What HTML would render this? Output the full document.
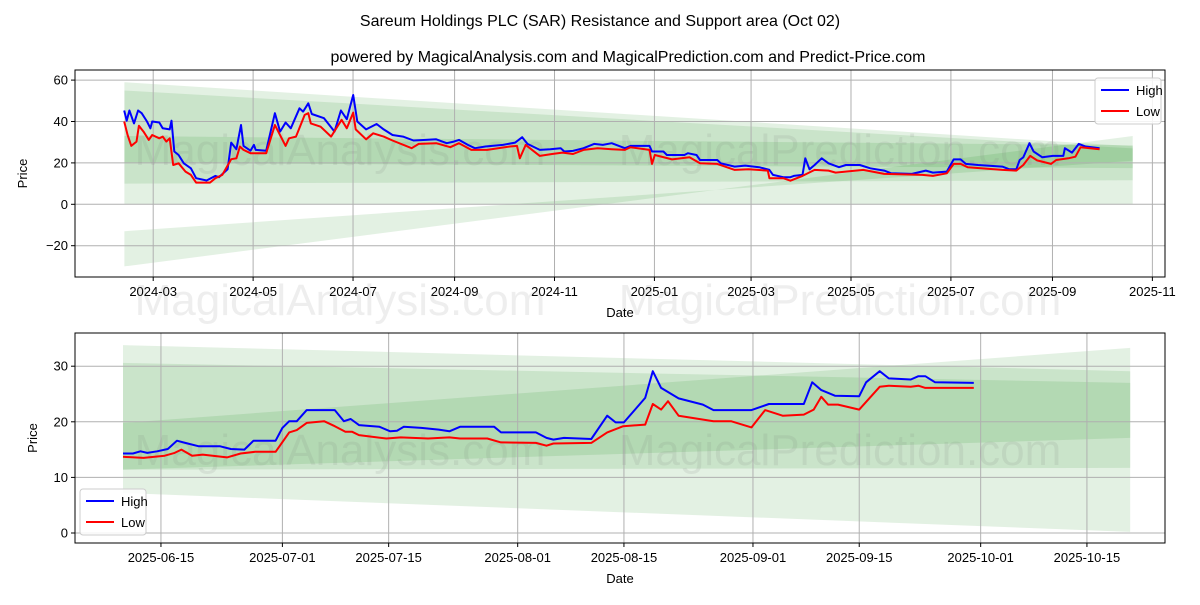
<!DOCTYPE html>
<html><head><meta charset="utf-8"><style>
body{margin:0;background:#fff;font-family:"Liberation Sans",sans-serif}
svg text{font-family:"Liberation Sans",sans-serif}
</style></head><body>
<svg id="c" width="1200" height="600" xmlns="http://www.w3.org/2000/svg">
<rect width="1200" height="600" fill="#fff"/>
<text x="600" y="26" text-anchor="middle" font-size="16">Sareum Holdings PLC (SAR) Resistance and Support area (Oct 02)</text>
<text x="628" y="62" text-anchor="middle" font-size="16">powered by MagicalAnalysis.com and MagicalPrediction.com and Predict-Price.com</text>
<g id="top"></g>
<g id="bot"></g>
</svg>
<script>
// ---- top chart data (days since 2024-03-01) ----
const topHighDays=[-17.7,-16.2,-14.5,-11.7,-9.2,-7,-3.8,-1.7,-0.6,3.7,5.8,10.1,11.2,12.9,15.5,18.7,23,26.2,32.6,38,40.1,45.4,47.6,50.8,53.6,55.1,59.4,61.5,62.6,69,74.3,77.5,80.8,84,89.3,91.5,94.7,96.8,104.3,110.7,114.6,118.2,122.1,124.6,130,136.4,140.7,146.1,152.5,158.9,166.4,172.8,179.2,183.5,186.7,192.1,196.4,202.8,213.5,221,225.3,228.5,236,242.4,248.8,251,256.3,262.7,269.2,274.5,279.9,288,291.4,303,304.5,311.5,313.6,324.3,326.4,331.7,333.8,344.4,346.5,355,361.4,369.9,376.2,378.4,384.7,389,391.1,396.4,398.1,400.7,403.8,408.1,412.3,418.7,422.9,431.4,437.8,446.3,450.5,463.2,471.7,476,484.5,488.7,492.9,496.1,503.6,518.4,522.7,526.9,529,531.2,535,537.5,542.8,549.2,555.6,556.6,560.9,565.1,569.3,577.8];
const topHighVals=[45.3,40.4,45.3,39.1,45.3,44,40,36.7,40,39.5,36.7,36.2,40.4,25.5,23.8,19.8,17.4,12.6,11.5,13.7,13.1,16.9,29.8,26.6,38.3,28.2,25.9,28.7,26.3,25.9,44,35.1,39.5,36.7,46.4,44.8,48.8,43.6,41.6,35.1,45.3,41.1,52.8,40,36.2,38.8,36.2,33.5,32.7,30.8,31.1,31.4,29.5,30.3,31.1,28.7,27.1,27.9,28.7,29.8,32.4,29.2,26.3,26.6,27.1,25.5,25.8,27.1,29.2,28.7,29.5,27.1,28.2,28.2,25.5,25.5,23.8,23.8,24.7,23.8,21.4,21.4,19.8,18.2,18.7,17.9,16.6,14.2,13.1,13.1,13.7,14.2,22.2,16.9,19,22.2,19.8,17.9,19,19,17.4,16.3,15,14.7,16.3,15.3,15.8,21.7,21.7,19.5,19,18.2,16.9,16.9,21.4,22.7,29.5,25.5,22.7,23.4,23.4,27.1,25,29.2,27.9,27.1];
const topLowDays=[-17.7,-15.6,-13.4,-10.2,-8.7,-5.9,-2.7,-0.6,3.7,5.8,8,10.1,12.2,15.5,19.7,23,26.2,34.7,38,42.2,47.6,50.8,52.9,55.1,59.4,69,74.3,80.8,82.9,87.2,92.5,94.7,96.2,102.2,108.6,115,118.2,122.1,123.6,130,134.3,140.7,146.1,157.8,162.1,172.8,181.4,186.7,194.2,203.9,217.8,222.1,223.8,227.4,236,243.5,249.9,256.3,262.7,271.3,279.9,288,291.4,303,304.5,306.2,316.8,327.4,333.8,344.4,355,363.5,375.2,376.2,384.7,389,396.4,403.8,412.3,416.6,433.5,446.3,469.6,476,484.5,488.7,492.9,497.2,518.4,526.9,531.2,535.4,539.6,548.1,551.3,558.7,563,566.2,577.8];
const topLowVals=[40,33.5,28.2,30.3,37.9,35.1,31.1,33.5,31.9,32.7,30.3,31.9,19,19.8,15.8,14.2,10.5,10.5,12.6,14.2,21.8,22.2,27.9,26.3,24.7,24.7,38.3,28.2,31.9,32.7,43.2,44,39.1,37.5,32.7,40.8,36.7,44.3,36.2,31.4,34.3,32.7,30.8,27.1,29.2,29.5,27.6,29.5,26.3,26.3,27.9,28.2,22.2,28.7,23.4,24.3,25,24.3,26.3,27.1,26.6,26.3,27.6,26.3,19.5,23.8,21.7,22.7,19.8,19.5,16.6,16.9,16.3,12.6,12.6,11.4,13.7,16.6,16.3,15.3,16.6,14.7,14.2,13.7,15,19.5,19.5,17.9,16.6,16.3,19,23.4,21.2,19.5,21.4,22.2,23,27.6,26.6];
const topBandStart=-17.6, topBandEnd=598;
const topBandLoStart=[0,10,-30,20], topBandLoEnd=[0,11.6,33,17.5];
const topBandHiStart=[59,55,-13,33], topBandHiEnd=[28,27,21,28.5];
const topYTicks=[-20,0,20,40,60];
const topXTickLabels=["2024-03","2024-05","2024-07","2024-09","2024-11","2025-01","2025-03","2025-05","2025-07","2025-09","2025-11"];
const topXTickDays=[0,61,122,184,245,306,365,426,487,549,610];
// ---- bottom chart data (days since 2025-06-08) ----
const botHighDays=[2,3.3,4.3,5.2,6.5,7.9,9.1,10.2,12,14.8,16.2,18,19.2,22.1,23,23.9,24.9,26.2,29.9,31.1,32,33.1,35.8,37.2,38.1,39,41.3,43.6,45,46.4,50.9,51.8,56.4,57.8,58.7,60.1,63.7,65.8,66.9,68,70.8,71.8,72.9,75.2,78.4,79.8,84.8,87.1,91.7,92.8,94,95.8,99,99.9,101.7,102.9,105.8,106.8,107.7,109,114.1];
const botHighVals=[14.3,14.3,14.7,14.4,14.7,15.1,16.6,16.2,15.6,15.6,15.1,15,16.6,16.6,18.9,20.1,20.1,22.1,22.1,20.1,20.5,19.4,19.1,18.3,18.4,19.1,18.9,18.6,18.3,19.1,19.1,18.1,18.1,17.1,16.8,17.1,16.9,21.1,19.9,19.9,24.3,29.1,26.1,24.2,23.1,22.1,22.1,23.2,23.2,27.1,25.7,24.7,24.6,27.1,29.1,27.8,27.6,28.2,28.2,27.1,27];
const botLowDays=[2,4.7,7.5,8.8,9.7,11.1,12.5,15.7,17.5,19.4,22.1,23.9,24.9,26.2,28.5,29.9,31.3,32.2,33.1,36.7,38.6,42.2,45,46.4,50,51.8,56.4,57.8,58.7,63.7,65.8,67.9,70.8,71.8,72.9,73.8,75.2,79.8,82.1,84.8,86.6,88.9,91.7,93,94,94.9,96.2,99,101.7,102.9,105.8,106.8,107.7,114.1];
const botLowVals=[13.7,13.5,13.9,14.4,15,13.9,14.1,13.6,14.3,14.6,14.6,18.1,18.5,19.8,20.1,19.2,18.2,18.2,17.6,17,17.2,17,17.2,17,17,16.3,16.2,15.7,16.1,16.2,18.1,19.2,19.5,23.2,22.2,23.7,21.1,20.1,20.1,19,22.1,21.1,21.3,22.2,24.5,23.1,23.1,22.2,26.3,26.5,26.3,26.5,26.1,26.1];
const botBandStart=2, botBandEnd=134.7;
const botBandLoStart=[7.2,11.4,11.4], botBandLoEnd=[0.2,11.7,17.1];
const botBandHiStart=[33.8,30.6,19.8], botBandHiEnd=[29.1,27,33.3];
const botYTicks=[0,10,20,30];
const botXTickLabels=["2025-06-15","2025-07-01","2025-07-15","2025-08-01","2025-08-15","2025-09-01","2025-09-15","2025-10-01","2025-10-15"];
const botXTickDays=[7,23,37,54,68,85,99,115,129];

const NS="http://www.w3.org/2000/svg";
function mk(parent,tag,attrs,txt){const e=document.createElementNS(NS,tag);for(const k in attrs)e.setAttribute(k,attrs[k]);if(txt!==undefined)e.textContent=txt;parent.appendChild(e);return e;}

function drawPanel(g,cfg){
  const {L,R,T,B,xs,ys}=cfg;
  // bands
  for(let i=0;i<cfg.loS.length;i++){
    const p=[[cfg.bS,cfg.hiS[i]],[cfg.bE,cfg.hiE[i]],[cfg.bE,cfg.loE[i]],[cfg.bS,cfg.loS[i]]].map(q=>xs(q[0]).toFixed(1)+","+ys(q[1]).toFixed(1)).join(" ");
    const band=mk(g,"polygon",{points:p,fill:"rgba(0,128,0,0.11)"});
    
    
  }
  // grid
  cfg.yt.forEach(v=>{
    const y=ys(v);
    const gl=mk(g,"line",{x1:L,x2:R,y1:y,y2:y,stroke:"#b0b0b0","stroke-width":1});
    
    
    mk(g,"line",{x1:L-4,x2:L,y1:y,y2:y,stroke:"#000"});
    const t=mk(g,"text",{x:L-7,y:y+4.5,"text-anchor":"end","font-size":13},v<0?"\u2212"+(-v):String(v));
    
    
  });
  cfg.xd.forEach((d,i)=>{
    const x=xs(d);
    const gl=mk(g,"line",{x1:x,x2:x,y1:T,y2:B,stroke:"#b0b0b0","stroke-width":1});
    
    
    mk(g,"line",{x1:x,x2:x,y1:B,y2:B+4,stroke:"#000"});
    const t=mk(g,"text",{x:x,y:B+19,"text-anchor":"middle","font-size":13},cfg.xl[i]);
    
    
  });
  // watermark
  cfg.wm.forEach(w=>{
    const t=mk(g,"text",{x:w[0],y:w[1],"text-anchor":"middle","font-size":44,fill:"rgba(120,120,120,0.13)"},w[2]);
    
    
  });
  // lines
  const line=(days,vals,col,name)=>{
    const pts=days.map((d,i)=>xs(d).toFixed(1)+","+ys(vals[i]).toFixed(1)).join(" ");
    const pl=mk(g,"polyline",{points:pts,fill:"none",stroke:col,"stroke-width":2,"stroke-linejoin":"round"});
    
    
  };
  line(cfg.hd,cfg.hv,"#0000ff","high-line");
  line(cfg.ld,cfg.lv,"#ff0000","low-line");
  const fr=mk(g,"rect",{x:L,y:T,width:R-L,height:B-T,fill:"none",stroke:"#000","stroke-width":1});
  
  
  const yl=mk(g,"text",{x:0,y:0,"text-anchor":"middle","font-size":13,transform:`translate(${cfg.ylx},${(T+B)/2}) rotate(-90)`},"Price");
  
  
  const xl=mk(g,"text",{x:(L+R)/2,y:B+40,"text-anchor":"middle","font-size":13},"Date");
  
  
  // legend
  const [lx,ly]=cfg.leg;
  const lg=mk(g,"g",{});
  
  
  mk(lg,"rect",{x:lx,y:ly,width:66,height:46,rx:3,fill:"rgba(255,255,255,0.85)",stroke:"#ccc"});
  mk(lg,"line",{x1:lx+6,x2:lx+34,y1:ly+12,y2:ly+12,stroke:"#0000ff","stroke-width":2});
  const e1=mk(lg,"text",{x:lx+41,y:ly+17,"font-size":13},"High");
  
  
  mk(lg,"line",{x1:lx+6,x2:lx+34,y1:ly+33,y2:ly+33,stroke:"#ff0000","stroke-width":2});
  const e2=mk(lg,"text",{x:lx+41,y:ly+38,"font-size":13},"Low");
  
  
}

drawPanel(document.getElementById("top"),{
  L:75,R:1165,T:70,B:277,
  xs:d=>153.2+d*1.638, ys:v=>204.3-v*2.07,
  bS:topBandStart,bE:topBandEnd,loS:topBandLoStart,loE:topBandLoEnd,hiS:topBandHiStart,hiE:topBandHiEnd,
  yt:topYTicks,xd:topXTickDays,xl:topXTickLabels,
  hd:topHighDays,hv:topHighVals,ld:topLowDays,lv:topLowVals,
  ylx:27,leg:[1095,78],
  wm:[[340,165,"MagicalAnalysis.com"],[840,165,"MagicalPrediction.com"],[340,315,"MagicalAnalysis.com"],[840,315,"MagicalPrediction.com"]]
});
drawPanel(document.getElementById("bot"),{
  L:75,R:1165,T:333,B:543,
  xs:d=>123+(d-2)*7.59, ys:v=>533-v*5.56,
  bS:botBandStart,bE:botBandEnd,loS:botBandLoStart,loE:botBandLoEnd,hiS:botBandHiStart,hiE:botBandHiEnd,
  yt:botYTicks,xd:botXTickDays,xl:botXTickLabels,
  hd:botHighDays,hv:botHighVals,ld:botLowDays,lv:botLowVals,
  ylx:37,leg:[80,489],
  wm:[[340,465,"MagicalAnalysis.com"],[840,465,"MagicalPrediction.com"]]
});
</script>
</body></html>
